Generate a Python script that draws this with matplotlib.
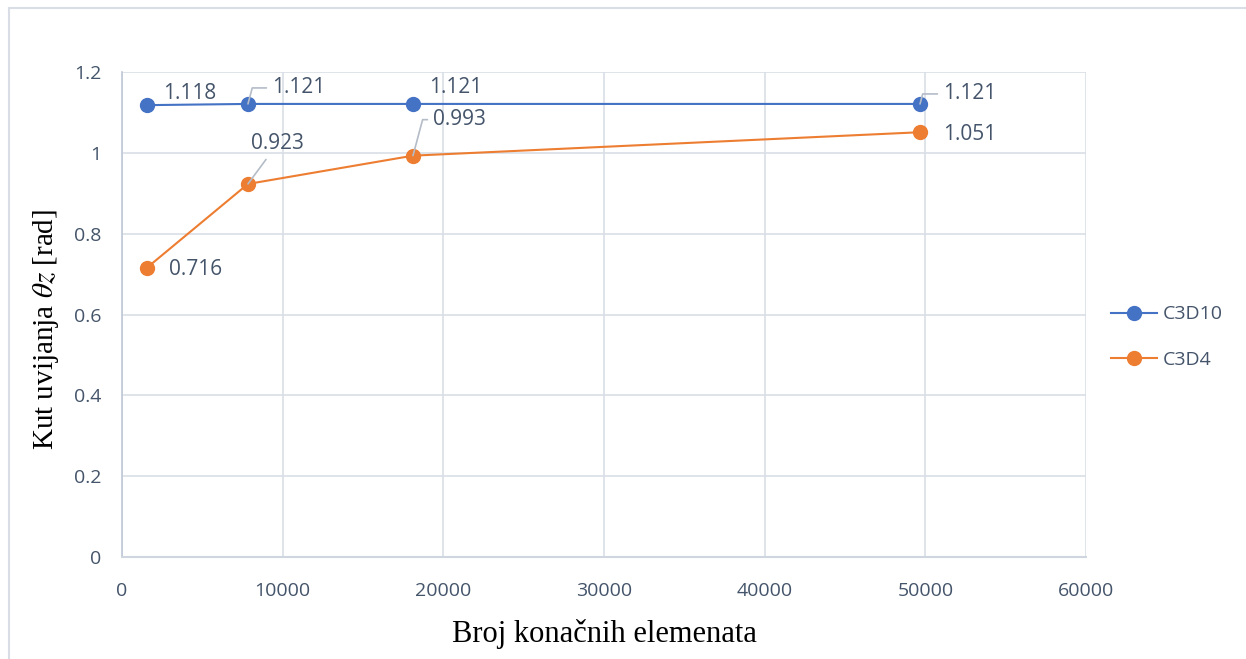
import matplotlib
matplotlib.use("Agg")
import matplotlib.pyplot as plt
from matplotlib.lines import Line2D

# Data
elements = [1560, 7840, 18110, 49670]
c3d10 = [1.118, 1.121, 1.121, 1.121]
c3d4 = [0.716, 0.923, 0.993, 1.051]
series_names = ["C3D10", "C3D4"]
xticks = [0, 10000, 20000, 30000, 40000, 50000, 60000]
yticks = [0, 0.2, 0.4, 0.6, 0.8, 1, 1.2]
ytick_labels = ["0", "0.2", "0.4", "0.6", "0.8", "1", "1.2"]

blue = "#4472C4"
orange = "#ED7D31"
txt = "#44546A"
grid = "#D9DEE6"
leader = "#B4BCC8"

plt.rcParams['mathtext.fontset'] = 'stix'

fig = plt.figure(figsize=(12.46, 6.59), dpi=100)
# outer frame
fig.patches.append(plt.Rectangle((9/1246, -0.05), 1.2, 1 - 8/659 + 0.05,
                                 transform=fig.transFigure, fill=False,
                                 edgecolor=grid, lw=1.5))
ax = fig.add_axes([122/1246, (659-557)/659, (1086-122)/1246, (557-72)/659])

ax.plot(elements, c3d10, color=blue, lw=1.5, marker='o', ms=10, label=series_names[0], zorder=3)
ax.plot(elements, c3d4, color=orange, lw=1.5, marker='o', ms=10, label=series_names[1], zorder=3)

ax.set_xlim(0, 60000)
ax.set_ylim(0, 1.2)
ax.set_xticks(xticks)
ax.set_xticklabels([str(v) for v in xticks])
ax.set_yticks(yticks)
ax.set_yticklabels(ytick_labels)
ax.grid(True, color=grid, lw=1.2)
ax.set_axisbelow(True)
for s in ["top", "right"]:
    ax.spines[s].set_visible(False)
ax.spines["left"].set_color("#BFC8D6")
ax.spines["bottom"].set_color("#D0D6E0")
ax.spines["left"].set_linewidth(1.2)
ax.spines["bottom"].set_linewidth(1.5)
ax.tick_params(length=0, labelsize=14, labelcolor=txt)
ax.tick_params(axis='x', pad=18)
ax.tick_params(axis='y', pad=15)
for lab in ax.get_xticklabels() + ax.get_yticklabels():
    lab.set_family("Open Sans")

ax.set_xlabel("Broj konačnih elemenata", family="Liberation Serif", fontsize=22, labelpad=14)
ax.set_ylabel(r"Kut uvijanja $\theta z$ [rad]", family="Liberation Serif", fontsize=21)
ax.yaxis.set_label_coords(-0.063, 0.47)

lab_kw = dict(textcoords='offset pixels', fontsize=15, color=txt, family="Open Sans",
              va='center', ha='left')
# (offset_x, offset_y, leader)
c3d10_off = [(16, 12, False), (24, 16, True), (16, 16, False), (23, 10, True)]
c3d4_off = [(22, -2, False), (3, 40, True), (20, 36, True), (23, -2, False)]

def label(xv, yv, text, off):
    dx, dy, lead = off
    if lead:
        ax.annotate(text, xy=(xv, yv), xytext=(dx, dy),
                    arrowprops=dict(arrowstyle='-', color=leader, lw=1.2,
                                    shrinkA=2, shrinkB=0,
                                    connectionstyle='angle,angleA=180,angleB=75,rad=0'
                                    if dx > 10 else 'arc3'),
                    **lab_kw)
    else:
        ax.annotate(text, xy=(xv, yv), xytext=(dx, dy), **lab_kw)

for xv, yv, off in zip(elements, c3d10, c3d10_off):
    label(xv, yv, f"{yv:.3f}", off)
for xv, yv, off in zip(elements, c3d4, c3d4_off):
    label(xv, yv, f"{yv:.3f}", off)

handles = [Line2D([0], [0], color=blue, lw=1.5, marker='o', ms=10),
           Line2D([0], [0], color=orange, lw=1.5, marker='o', ms=10)]
leg = fig.legend(handles, series_names, loc='center left',
                 bbox_to_anchor=(1093/1246, 1 - 337/659), frameon=False,
                 prop={'family': 'Open Sans', 'size': 14}, labelspacing=1.4,
                 handlelength=2.4, handletextpad=0.3)
for t in leg.get_texts():
    t.set_color(txt)

fig.savefig("out.png", dpi=100)
